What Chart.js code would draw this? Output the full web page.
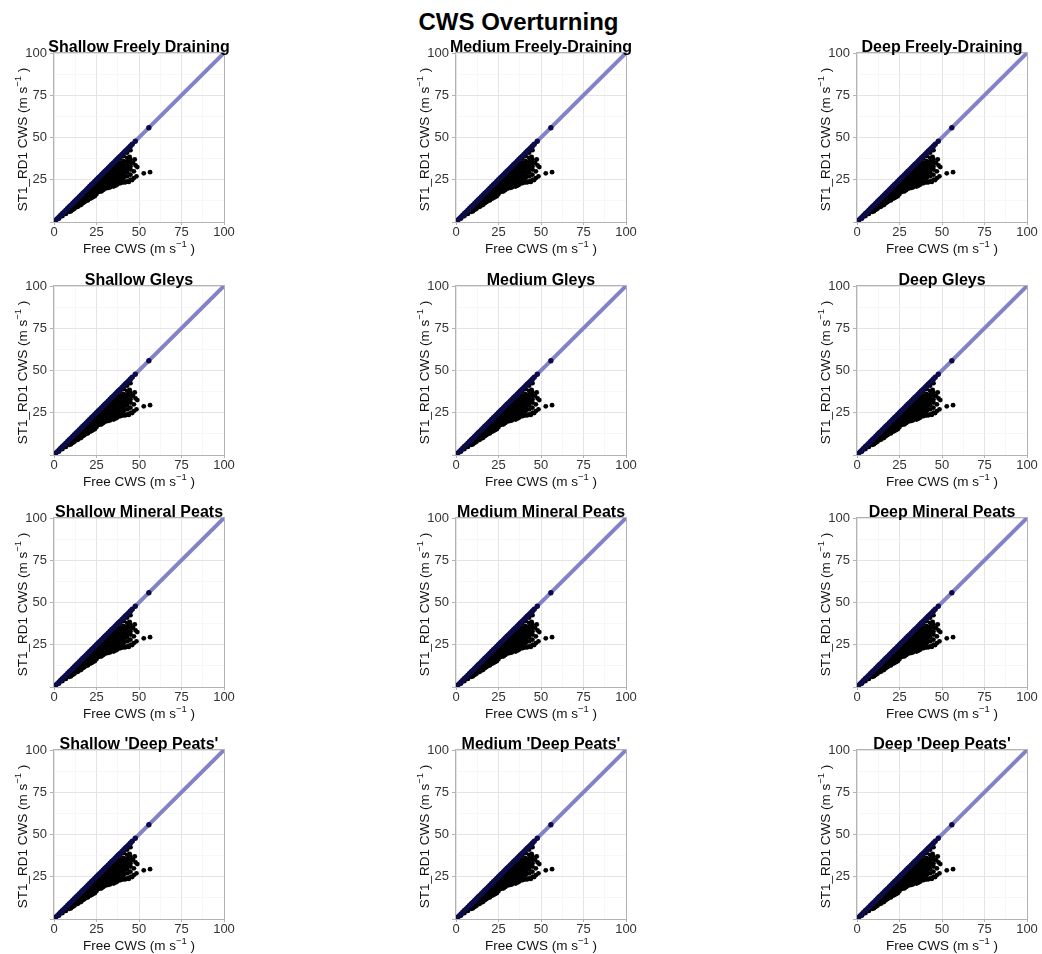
<!DOCTYPE html>
<html><head><meta charset="utf-8">
<script src="https://cdn.jsdelivr.net/npm/chart.js@4/dist/chart.umd.min.js"></script>
<style>
html,body{margin:0;padding:0;background:#fff;width:1042px;height:954px;overflow:hidden;position:relative;font-family:"Liberation Sans",Arial,sans-serif;}
#title{position:absolute;left:0;top:10px;width:1037px;text-align:center;font-weight:bold;font-size:24px;line-height:24px;color:#000;}
.panel{position:absolute;}
</style></head><body>
<div id="title">CWS Overturning</div>
<script>
const panelTitles = [
  "Shallow Freely Draining", "Medium Freely-Draining", "Deep Freely-Draining",
  "Shallow Gleys", "Medium Gleys", "Deep Gleys",
  "Shallow Mineral Peats", "Medium Mineral Peats", "Deep Mineral Peats",
  "Shallow 'Deep Peats'", "Medium 'Deep Peats'", "Deep 'Deep Peats'"
];
const xAxisTitle = ["Free CWS (m s", "\u22121", " )"];
const yAxisTitle = ["ST1_RD1 CWS (m s", "\u22121", " )"];
const gridValues = [0, 12.5, 25, 37.5, 50, 62.5, 75, 87.5, 100];
const xTickLabels = [0, 25, 50, 75, 100];
const yTickLabels = [25, 50, 75, 100];
// black points (Free CWS, ST1_RD1 CWS)
const blackPoints = [[3,2],[5,3.5],[7,4.8],[7,6],[9,6],[9,7.8],[10,6.3],[11,7.2],[11,8.8],[11,10],[12,7.8],[13,8.8],[13,10.5],[13,12],[14,9],[15,9.8],[15,11.8],[15,13.8],[16,10.2],[17,11.2],[17,13],[17,15],[17,16.2],[18,11.8],[19,12.6],[19,14.5],[19,16.5],[19,18.2],[20,12.8],[21,13.8],[21,15.8],[21,17.8],[21,19.8],[22,14.2],[23,14.8],[23,17],[23,19],[23,21],[23,22.2],[24,15.3],[25,16.5],[25,18.5],[25,20.5],[25,22.5],[25,24.2],[26,17.8],[27,18],[27,20],[27,22],[27,24],[27,26],[28,18.2],[29,19],[29,21],[29,23],[29,25],[29,27],[29,28.2],[30,19.8],[31,20],[31,22],[31,24],[31,26],[31,28],[31,30],[32,20.2],[33,20.5],[33,22.5],[33,24.5],[33,26.5],[33,28.5],[33,30.5],[33,32],[34,21.6],[35,21],[35,23],[35,25],[35,27],[35,29],[35,31],[35,33],[35,34.2],[36,21.5],[37,22],[37,24],[37,26],[37,28],[37,30],[37,32],[37,34],[37,36],[38,22.8],[39,23],[39,25],[39,27],[39,29],[39,31],[39,33],[39,35],[39,37.5],[40,23.4],[41,23.5],[41,26],[41,28],[41,30],[41,32],[41,34],[41,36],[41,39],[42,23.5],[43,24],[43,27],[43,29.5],[43,31.5],[43,33.5],[43,35.5],[43,38],[43,41],[45,25],[45,28],[45,31],[45,33],[45,35.5],[45,37],[45,42.5],[46,24.8],[47,26],[48.5,27],[48,33.5],[49,32.5],[47.5,37],[46.5,35],[44.5,38.5],[52.8,28.8],[56.5,29.5],[47,30],[44,23.7]];
// navy points lying on the 1:1 line
const diagX = [0,1,2,3,4,5,6,7,8,9,10,11,12,13,14,15,16,17,18,19,20,21,22,23,24,25,26,27,28,29,30,31,32,33,34,35,36,37,38,39,40,41,42,43,44,45,46,47.8,55.8];
const diagY = [0,1,2,3,4,5,6,7,8,9,10,11,12,13,14,15,16,17,18,19,20,21,22,23,24,25,26,27,28,29,30,31,32,33,34,35,36,37,38,39,40,41,42,43,44,45,46,47.8,55.8];
// 1:1 reference line
const refLineX = [0, 100];
const refLineY = [0, 100];

const FONT = '"Liberation Sans", Arial, sans-serif';
const colLeft = [54, 456, 857];
const rowTop = [53, 286, 518, 750];
const PLOT_W = 170, PLOT_H = 169, YAX_W = 54, TOP_OFF = 30, XAX_H = 40;

function drawParts(ctx, parts, cx, baseline, size, supSize, supRise) {
  const fonts = [size + 'px ' + FONT, supSize + 'px ' + FONT, size + 'px ' + FONT];
  let widths = parts.map((p, k) => { ctx.font = fonts[k]; return ctx.measureText(p).width; });
  let total = widths.reduce((a, b) => a + b, 0);
  let x = cx - total / 2;
  ctx.textAlign = 'left'; ctx.textBaseline = 'alphabetic'; ctx.fillStyle = '#111';
  parts.forEach((p, k) => {
    ctx.font = fonts[k];
    ctx.fillText(p, x, baseline - (k === 1 ? supRise : 0));
    x += widths[k];
  });
}

const panelDecor = {
  id: 'panelDecor',
  beforeDatasetsDraw(chart) {
    const {ctx, chartArea: a} = chart;
    ctx.save();
    ctx.strokeStyle = '#b3b3b3'; ctx.lineWidth = 1;
    ctx.strokeRect(Math.round(a.left) - 0.5, Math.round(a.top) - 0.5, Math.round(a.right - a.left) + 1, Math.round(a.bottom - a.top) + 1);
    ctx.restore();
  },
  afterDraw(chart) {
    const {ctx, chartArea: a} = chart;
    ctx.save();
    ctx.font = 'bold 16px ' + FONT;
    ctx.fillStyle = '#000'; ctx.textAlign = 'center'; ctx.textBaseline = 'alphabetic';
    ctx.fillText(chart.options.plugins.panelDecor.title, (a.left + a.right) / 2, a.top - 1.5);
    drawParts(ctx, xAxisTitle, (a.left + a.right) / 2, a.bottom + 30.5, 13.5, 9.5, 6);
    ctx.translate(a.left - 27, (a.top + a.bottom) / 2 + 2);
    ctx.rotate(-Math.PI / 2);
    drawParts(ctx, yAxisTitle, 0, 0, 13.5, 9.5, 6);
    ctx.restore();
  }
};

function isMajor(c) { return c.tick && c.tick.value % 25 === 0; }

function makeChart(i) {
  const col = i % 3, row = Math.floor(i / 3);
  const canvas = document.createElement('canvas');
  canvas.width = YAX_W * 2 + PLOT_W;
  canvas.height = TOP_OFF + PLOT_H + XAX_H;
  canvas.className = 'panel';
  canvas.style.left = (colLeft[col] - YAX_W) + 'px';
  canvas.style.top = (rowTop[row] - TOP_OFF) + 'px';
  document.body.appendChild(canvas);
  const gridOpts = {
    color: c => isMajor(c) ? '#e4e4e4' : '#f2f2f2',
    lineWidth: c => isMajor(c) ? 1 : 0.6,
    tickColor: c => isMajor(c) ? '#b3b3b3' : 'rgba(0,0,0,0)',
    drawTicks: true
  };
  new Chart(canvas, {
    type: 'scatter',
    data: { datasets: [
      { data: diagX.map((x, k) => ({x: x, y: diagY[k]})), backgroundColor: '#0c0c48', borderColor: '#0c0c48', pointRadius: 2.7, borderWidth: 0, order: 0 },
      { type: 'line', data: refLineX.map((x, k) => ({x: x, y: refLineY[k]})), borderColor: 'rgb(130,130,198)', borderWidth: 4, pointRadius: 0, fill: false, clip: 0, order: 1 },
      { data: blackPoints.map(p => ({x: p[0], y: p[1]})), backgroundColor: '#000', borderColor: '#000', pointRadius: 2.4, borderWidth: 0, order: 2 }
    ]},
    options: {
      responsive: false, animation: false, devicePixelRatio: 1,
      layout: { padding: { top: TOP_OFF, left: 0, right: YAX_W, bottom: 0 } },
      plugins: {
        legend: { display: false }, tooltip: { enabled: false }, title: { display: false },
        panelDecor: { title: panelTitles[i] }
      },
      scales: {
        x: {
          type: 'linear', min: 0, max: 100,
          afterBuildTicks: s => { s.ticks = gridValues.map(v => ({value: v})); },
          afterFit: s => { s.height = XAX_H; },
          border: { display: false },
          grid: Object.assign({ tickLength: 3 }, gridOpts),
          ticks: { autoSkip: false, maxRotation: 0, padding: 0, color: '#333',
                   font: { family: FONT, size: 13 },
                   callback: v => xTickLabels.includes(v) ? String(v) : '' }
        },
        y: {
          type: 'linear', min: 0, max: 100,
          afterBuildTicks: s => { s.ticks = gridValues.map(v => ({value: v})); },
          afterFit: s => { s.width = YAX_W; },
          border: { display: false },
          grid: Object.assign({ tickLength: 4 }, gridOpts),
          ticks: { autoSkip: false, padding: 3, color: '#333',
                   font: { family: FONT, size: 13 },
                   callback: v => yTickLabels.includes(v) ? String(v) : '' }
        }
      }
    },
    plugins: [panelDecor]
  });
}
for (let i = 0; i < 12; i++) makeChart(i);
</script>
</body></html>
